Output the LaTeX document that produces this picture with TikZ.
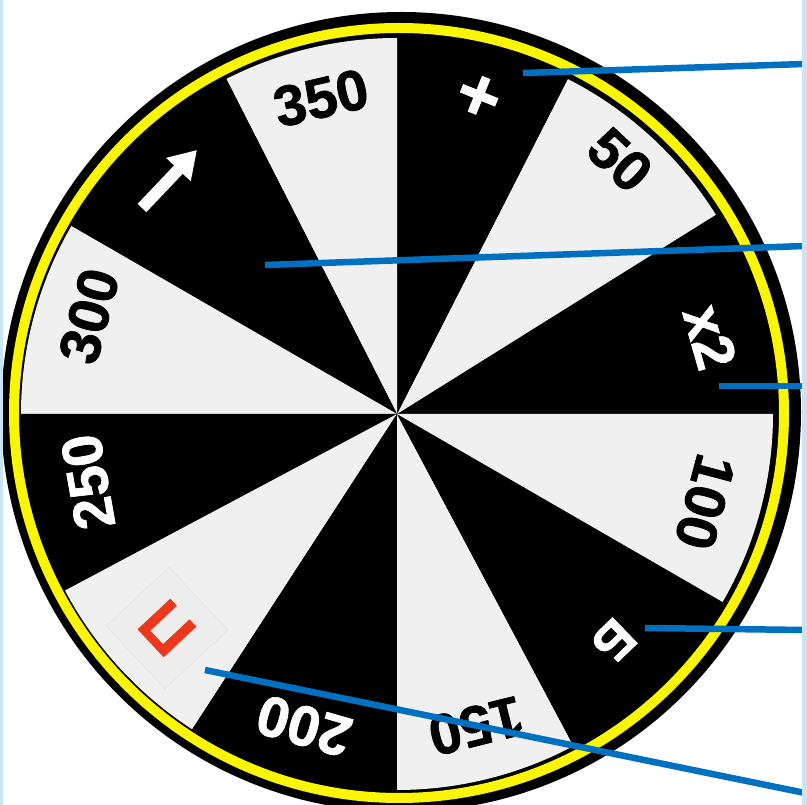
\documentclass[tikz,border=0pt]{standalone}
\usepackage{fontspec}
\setmainfont{Liberation Sans}[BoldFeatures={FakeBold=1.2}]
\usetikzlibrary{arrows.meta}
\definecolor{wheelgray}{RGB}{240,240,240}
\definecolor{rimyellow}{RGB}{250,245,0}
\definecolor{callblue}{RGB}{0,112,192}
\definecolor{prizered}{RGB}{236,56,28}
\definecolor{edgeblue}{RGB}{200,228,245}
\definecolor{boxfill}{RGB}{237,237,237}
\definecolor{boxline}{RGB}{228,228,228}
\begin{document}
\begin{tikzpicture}[x=1pt,y=1pt,
  lab/.style={font=\fontsize{57}{57}\selectfont\bfseries, inner sep=0pt},
  onlight/.style={lab, text=black},
  ondark/.style={lab, text=white},
  callout/.style={draw=callblue, line width=6.5pt},
]
\useasboundingbox (0,0) rectangle (807,805);
\clip (0,0) rectangle (807,805);
\fill[white] (0,0) rectangle (807,805);
% rim
\fill[black] (401,393) circle (400);
\draw[rimyellow, line width=10pt] (399,392) circle (385);
% sectors
\coordinate (c) at (397,391);
\foreach \s/\e/\col in {0/32/black, 32/63/wheelgray, 63/90/black, 90/117/wheelgray,
  117/150/black, 150/180/wheelgray, 180/208/black, 208/237/wheelgray,
  237/270/black, 270/298/wheelgray, 298/330/black, 330/360/wheelgray} {
  \fill[\col] (c) -- ++(\s:376) arc[start angle=\s, end angle=\e, radius=376] -- cycle;
}
% labels
\node[onlight, rotate=13]   (s350) at (321,707) {350};
\node[ondark,  rotate=-22, font=\fontsize{74}{74}\selectfont\bfseries] (splus) at (478,707) {+};
\node[onlight, rotate=-43]  (s50)  at (620,645) {50};
\node[ondark,  rotate=-74]  (sx2)  at (710,468) {x2};
\node[onlight, rotate=-105] (s100) at (705,303) {100};
\node[ondark,  rotate=-136, font=\fontsize{52}{52}\selectfont\bfseries] (sb) at (614,164) {Б};
\node[onlight, rotate=-166] (s150) at (476,79)  {150};
\node[ondark,  rotate=164]  (s200) at (304,79)  {200};
\node[lab, font=\fontsize{64}{64}\selectfont\bfseries, text=prizered, rotate=133, minimum size=86pt, fill=boxfill, draw=boxline, line width=0.8pt] (sp) at (167,177) {П};
\node[ondark,  rotate=100]  (s250) at (88,323)  {250};
\node[onlight, rotate=75]   (s300) at (89,489)  {300};
% arrow symbol
\coordinate (at) at (142,597);
\coordinate (ah) at (197,655);
\draw[white, line width=12pt, -{Triangle[width=32pt,length=27pt]}] (at) -- (ah);
% callouts
\coordinate (p1) at (523,732); \coordinate (e1) at (805,741);
\coordinate (p2) at (265,540); \coordinate (e2) at (805,559);
\coordinate (p3) at (719,419); \coordinate (e3) at (805,419);
\coordinate (p4) at (645,177); \coordinate (e4) at (805,175);
\coordinate (p5) at (205,135); \coordinate (e5) at (805,12);
\draw[callout] (p1) -- (e1);
\draw[callout] (p2) -- (e2);
\draw[callout] (p3) -- (e3);
\draw[callout] (p4) -- (e4);
\draw[callout] (p5) -- (e5);
% edge strips
\fill[edgeblue] (802,0) rectangle (807,805);
\fill[edgeblue] (0,0) rectangle (3,805);
\end{tikzpicture}
\end{document}
